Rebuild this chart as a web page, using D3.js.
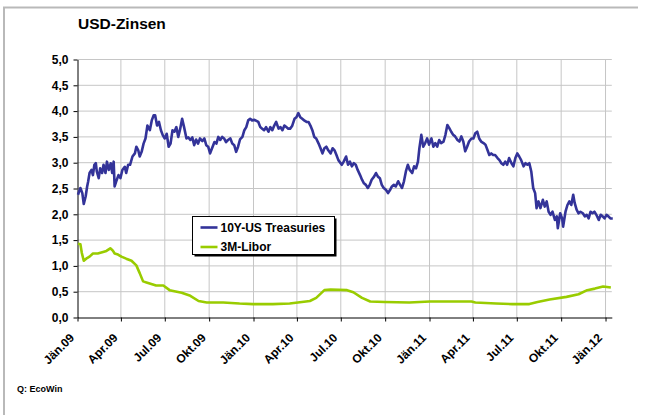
<!DOCTYPE html>
<html>
<head>
<meta charset="utf-8">
<script src="https://cdn.jsdelivr.net/npm/d3@7"></script>
<style>
  html, body { margin: 0; padding: 0; background: #fff; }
  svg { display: block; font-family: "Liberation Sans", Arial, sans-serif; }
</style>
</head>
<body>
<svg id="chart" width="648" height="415"></svg>
<script>
// 10Y US Treasuries (roughly every 4 days)
const tsyDates = [
  "2009-01-02","2009-01-07","2009-01-11","2009-01-14","2009-01-18","2009-01-21","2009-01-23","2009-01-26","2009-01-30",
  "2009-02-02","2009-02-05","2009-02-08","2009-02-10","2009-02-14","2009-02-17","2009-02-21","2009-02-24","2009-02-28",
  "2009-03-03","2009-03-07","2009-03-11","2009-03-14","2009-03-17","2009-03-19","2009-03-22","2009-03-27","2009-03-31",
  "2009-04-04","2009-04-09","2009-04-12","2009-04-16","2009-04-20","2009-04-25","2009-04-30",
  "2009-05-03","2009-05-07","2009-05-10","2009-05-14","2009-05-18","2009-05-22","2009-05-26","2009-05-31",
  "2009-06-04","2009-06-08","2009-06-11","2009-06-15","2009-06-19","2009-06-23","2009-06-27",
  "2009-07-01","2009-07-05","2009-07-09","2009-07-13","2009-07-17","2009-07-21","2009-07-25","2009-07-29",
  "2009-08-02","2009-08-06","2009-08-10","2009-08-15","2009-08-19","2009-08-23","2009-08-27","2009-08-31",
  "2009-09-04","2009-09-08","2009-09-12","2009-09-17","2009-09-21","2009-09-25","2009-09-29",
  "2009-10-03","2009-10-07","2009-10-12","2009-10-16","2009-10-20","2009-10-24","2009-10-28",
  "2009-11-01","2009-11-05","2009-11-09","2009-11-14","2009-11-18","2009-11-22","2009-11-26","2009-11-30",
  "2009-12-04","2009-12-09","2009-12-13","2009-12-17","2009-12-21","2009-12-25","2009-12-29",
  "2010-01-03","2010-01-07","2010-01-11","2010-01-15","2010-01-19","2010-01-23","2010-01-27",
  "2010-02-01","2010-02-05","2010-02-09","2010-02-13","2010-02-17","2010-02-22","2010-02-26",
  "2010-03-02","2010-03-06","2010-03-10","2010-03-14","2010-03-18","2010-03-22","2010-03-27","2010-03-31",
  "2010-04-04","2010-04-08","2010-04-12","2010-04-16","2010-04-21","2010-04-25","2010-04-29",
  "2010-05-03","2010-05-07","2010-05-11","2010-05-16","2010-05-20","2010-05-24","2010-05-28",
  "2010-06-01","2010-06-05","2010-06-10","2010-06-14","2010-06-18","2010-06-22","2010-06-26",
  "2010-07-03","2010-07-07","2010-07-12","2010-07-16","2010-07-20","2010-07-24","2010-07-28",
  "2010-08-01","2010-08-05","2010-08-10","2010-08-14","2010-08-18","2010-08-22","2010-08-26","2010-08-30",
  "2010-09-03","2010-09-08","2010-09-12","2010-09-16","2010-09-20","2010-09-24","2010-09-28",
  "2010-10-03","2010-10-07","2010-10-11","2010-10-15","2010-10-19","2010-10-23","2010-10-28",
  "2010-11-01","2010-11-05","2010-11-09","2010-11-13","2010-11-17","2010-11-21","2010-11-26","2010-11-30",
  "2010-12-04","2010-12-08","2010-12-11","2010-12-15","2010-12-19","2010-12-23","2010-12-27","2010-12-31",
  "2011-01-05","2011-01-09","2011-01-13","2011-01-17","2011-01-21","2011-01-25","2011-01-30",
  "2011-02-03","2011-02-07","2011-02-11","2011-02-15","2011-02-19","2011-02-23","2011-02-28",
  "2011-03-04","2011-03-08","2011-03-12","2011-03-16","2011-03-20","2011-03-24","2011-03-29",
  "2011-04-02","2011-04-06","2011-04-10","2011-04-14","2011-04-18","2011-04-23","2011-04-27",
  "2011-05-01","2011-05-05","2011-05-09","2011-05-13","2011-05-17","2011-05-22","2011-05-26","2011-05-30",
  "2011-06-03","2011-06-07","2011-06-11","2011-06-15","2011-06-20","2011-06-24","2011-06-28",
  "2011-07-02","2011-07-06","2011-07-10","2011-07-15","2011-07-19","2011-07-23","2011-07-27","2011-07-31",
  "2011-08-04","2011-08-08","2011-08-11","2011-08-15","2011-08-19","2011-08-24","2011-08-28",
  "2011-09-01","2011-09-05","2011-09-09","2011-09-13","2011-09-18","2011-09-22","2011-09-24","2011-09-29",
  "2011-10-03","2011-10-05","2011-10-10","2011-10-14","2011-10-18","2011-10-22","2011-10-26","2011-10-29",
  "2011-11-02","2011-11-06","2011-11-10","2011-11-15","2011-11-19","2011-11-23","2011-11-27",
  "2011-12-01","2011-12-05","2011-12-09","2011-12-13","2011-12-18","2011-12-22","2011-12-26","2011-12-30",
  "2012-01-03","2012-01-07","2012-01-11","2012-01-16"
];
const tsyValues = [
  2.38,2.51,2.41,2.20,2.35,2.54,2.63,2.80,2.86,
  2.76,2.96,2.99,2.83,2.70,2.89,2.80,2.96,2.80,
  3.02,2.86,2.99,2.80,3.02,2.54,2.63,2.76,2.70,
  2.86,2.92,2.80,2.96,2.96,3.12,3.18,
  3.31,3.24,3.12,3.21,3.37,3.47,3.72,3.63,
  3.82,3.92,3.92,3.72,3.79,3.63,3.53,
  3.47,3.56,3.31,3.37,3.63,3.60,3.69,3.50,
  3.66,3.85,3.69,3.47,3.49,3.44,3.49,3.34,
  3.45,3.37,3.47,3.42,3.47,3.34,3.31,
  3.18,3.28,3.40,3.37,3.50,3.44,3.50,
  3.47,3.40,3.44,3.47,3.37,3.34,3.21,3.31,
  3.45,3.50,3.63,3.69,3.82,3.85,3.82,
  3.83,3.81,3.79,3.69,3.66,3.63,3.69,
  3.60,3.69,3.63,3.72,3.79,3.66,3.69,
  3.63,3.72,3.69,3.66,3.66,3.71,3.85,3.88,
  3.96,3.88,3.85,3.82,3.79,3.79,3.72,
  3.63,3.50,3.47,3.37,3.28,3.18,3.28,
  3.31,3.24,3.18,3.28,3.24,3.15,3.05,
  2.96,3.02,3.12,2.96,3.02,2.93,2.99,
  2.96,2.86,2.76,2.67,2.60,2.57,2.51,2.57,
  2.67,2.73,2.80,2.73,2.70,2.57,2.51,
  2.47,2.41,2.47,2.54,2.57,2.54,2.64,
  2.57,2.51,2.64,2.83,2.96,2.86,2.80,2.93,
  2.89,3.02,3.28,3.54,3.31,3.38,3.47,3.35,
  3.47,3.31,3.38,3.31,3.44,3.38,3.41,
  3.54,3.73,3.67,3.60,3.54,3.51,3.44,
  3.41,3.51,3.41,3.22,3.31,3.41,3.47,
  3.47,3.57,3.60,3.47,3.41,3.38,3.35,
  3.25,3.15,3.18,3.15,3.15,3.09,3.05,2.99,
  2.96,3.02,2.96,3.09,2.99,2.93,3.09,
  3.18,3.12,3.05,2.93,2.99,2.96,2.99,2.83,
  2.51,2.41,2.12,2.25,2.12,2.28,2.15,
  2.25,2.05,1.99,2.05,1.89,1.96,1.73,2.02,
  1.92,1.76,2.05,2.18,2.25,2.18,2.38,2.22,
  2.09,2.02,2.05,2.02,1.96,1.99,1.92,
  2.05,2.02,2.05,1.99,1.89,1.99,1.96,1.92,
  1.99,1.96,1.92,1.92
];

// 3M Libor
const liborDates = [
  "2009-01-02","2009-01-07","2009-01-10","2009-01-14","2009-01-19","2009-01-26","2009-02-02","2009-02-12","2009-02-23",
  "2009-03-02","2009-03-10","2009-03-15","2009-03-19","2009-03-26","2009-04-02","2009-04-12","2009-04-23",
  "2009-05-03","2009-05-10","2009-05-17","2009-05-24","2009-06-03","2009-06-13","2009-06-28","2009-07-11",
  "2009-08-05","2009-08-23","2009-09-09","2009-09-26","2009-10-30","2009-12-03","2009-12-31",
  "2010-02-10","2010-03-17","2010-04-03","2010-04-28","2010-05-11","2010-05-28","2010-06-10","2010-07-14",
  "2010-07-27","2010-08-14","2010-08-31","2010-09-30","2010-11-20","2011-01-02","2011-02-22","2011-03-29",
  "2011-04-06","2011-05-19","2011-06-22","2011-07-27","2011-08-13","2011-09-07","2011-10-12","2011-11-06",
  "2011-11-24","2011-12-10","2011-12-27","2012-01-12"
];
const liborValues = [
  1.43,1.42,1.25,1.10,1.14,1.18,1.24,1.24,1.27,
  1.29,1.34,1.30,1.24,1.22,1.18,1.14,1.10,
  1.01,0.86,0.70,0.68,0.65,0.62,0.62,0.53,
  0.48,0.42,0.32,0.29,0.29,0.27,0.26,
  0.26,0.27,0.29,0.32,0.38,0.53,0.54,0.53,
  0.49,0.38,0.31,0.30,0.29,0.31,0.31,0.31,
  0.29,0.27,0.26,0.26,0.30,0.35,0.40,0.45,
  0.53,0.56,0.60,0.58
];

const seriesNames = ["10Y-US Treasuries", "3M-Libor"];
const tickDates = ["2009-01-01","2009-04-01","2009-07-01","2009-10-01","2010-01-01","2010-04-01","2010-07-01",
  "2010-10-01","2011-01-01","2011-04-01","2011-07-01","2011-10-01","2012-01-01"];
const tickLabels = ["Jän.09","Apr.09","Jul.09","Okt.09","Jän.10","Apr.10","Jul.10",
  "Okt.10","Jän.11","Apr.11","Jul.11","Okt.11","Jän.12"];
const yTicks = [0, 0.5, 1, 1.5, 2, 2.5, 3, 3.5, 4, 4.5, 5];
const yTickLabels = ["0,0","0,5","1,0","1,5","2,0","2,5","3,0","3,5","4,0","4,5","5,0"];

const parse = d3.utcParse("%Y-%m-%d");
const tsy = tsyDates.map((d, i) => ({ date: parse(d), value: tsyValues[i] }));
const libor = liborDates.map((d, i) => ({ date: parse(d), value: liborValues[i] }));

const plotLeft = 77.5, plotRight = 611.8, plotTop = 59.5, plotBottom = 317.5;
const font = '"Liberation Sans", Arial, sans-serif';

const svg = d3.select('#chart');

// outer frame (top and left edges visible)
svg.append('path')
  .attr('d', 'M4,415V7.5H638')
  .attr('fill', 'none')
  .attr('stroke', '#b9b9b9')
  .attr('stroke-width', 2);

const x = d3.scaleUtc()
  .domain([parse("2009-01-01"), parse("2012-01-14")])
  .range([plotLeft, plotRight]);

const y = d3.scaleLinear()
  .domain([0, 5])
  .range([plotBottom, plotTop]);

// grid
const grid = svg.append('g').attr('stroke', '#c6c6c6').attr('stroke-width', 1);
grid.selectAll('.hgrid')
  .data(yTicks.slice(1))
  .enter()
  .append('line')
  .attr('x1', plotLeft).attr('x2', plotRight)
  .attr('y1', d => y(d)).attr('y2', d => y(d));
grid.selectAll('.vgrid')
  .data(tickDates.slice(1))
  .enter()
  .append('line')
  .attr('x1', d => x(parse(d))).attr('x2', d => x(parse(d)))
  .attr('y1', plotTop).attr('y2', plotBottom);

// axes
const xAxis = d3.axisBottom(x)
  .tickValues(tickDates.map(parse))
  .tickFormat((d, i) => tickLabels[i])
  .tickSize(4)
  .tickSizeOuter(0);

const yAxis = d3.axisLeft(y)
  .tickValues(yTicks)
  .tickFormat((d, i) => yTickLabels[i])
  .tickSize(4)
  .tickPadding(5)
  .tickSizeOuter(0);

const gx = svg.append('g')
  .attr('transform', `translate(0, ${plotBottom})`)
  .call(xAxis);
gx.selectAll('text')
  .attr('x', 0).attr('y', 0).attr('dy', 0)
  .attr('text-anchor', 'end')
  .attr('transform', 'translate(-3, 21) rotate(-45)');

const gy = svg.append('g')
  .attr('transform', `translate(${plotLeft}, 0)`)
  .call(yAxis);

svg.selectAll('.domain, .tick line').attr('stroke', '#000');
svg.selectAll('.tick text')
  .attr('fill', '#000')
  .style('font-family', font)
  .style('font-weight', 'bold')
  .style('font-size', '12px');

// lines
const line = d3.line()
  .x(d => x(d.date))
  .y(d => y(d.value));

svg.append('path')
  .datum(libor)
  .attr('fill', 'none')
  .attr('stroke', '#99cc00')
  .attr('stroke-width', 2.6)
  .attr('stroke-linejoin', 'round')
  .attr('d', line);

svg.append('path')
  .datum(tsy)
  .attr('fill', 'none')
  .attr('stroke', '#333399')
  .attr('stroke-width', 2.6)
  .attr('stroke-linejoin', 'round')
  .attr('d', line);

// legend
const legend = svg.append('g').attr('transform', 'translate(192.5, 216.5)');
legend.append('rect')
  .attr('x', 2).attr('y', 2).attr('width', 142).attr('height', 38)
  .attr('fill', '#000');
legend.append('rect')
  .attr('x', 0).attr('y', 0).attr('width', 142).attr('height', 38)
  .attr('fill', '#fff').attr('stroke', '#000').attr('stroke-width', 1);
const colors = ['#333399', '#99cc00'];
seriesNames.forEach((name, i) => {
  const ly = 11 + i * 19.5;
  legend.append('line')
    .attr('x1', 8).attr('x2', 25)
    .attr('y1', ly).attr('y2', ly)
    .attr('stroke', colors[i]).attr('stroke-width', 2.6);
  legend.append('text')
    .attr('x', 28).attr('y', ly + 4.3)
    .style('font-family', font).style('font-weight', 'bold').style('font-size', '12px')
    .text(name);
});

// title and source
svg.append('text')
  .attr('x', 78).attr('y', 29)
  .style('font-family', font).style('font-weight', 'bold').style('font-size', '15.5px')
  .text('USD-Zinsen');

svg.append('text')
  .attr('x', 17).attr('y', 392)
  .style('font-family', font).style('font-weight', 'bold').style('font-size', '9px')
  .text('Q: EcoWin');
</script>
</body>
</html>
